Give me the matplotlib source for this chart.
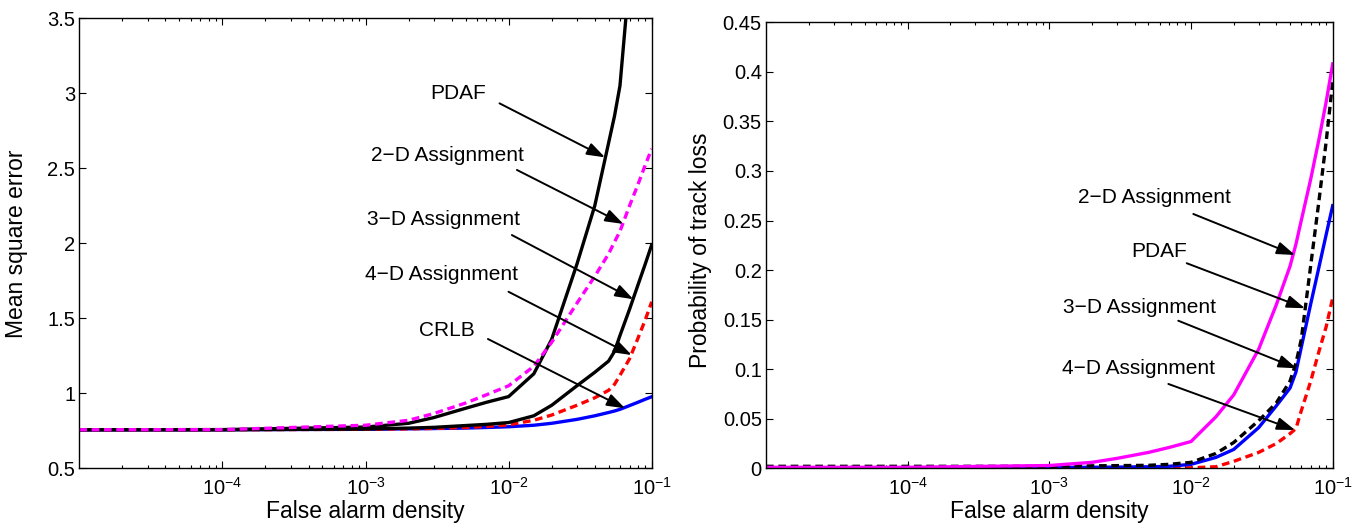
import numpy as np
import matplotlib
matplotlib.use("Agg")
import matplotlib.pyplot as plt
from matplotlib.ticker import FixedLocator, FixedFormatter, LogLocator, NullFormatter

plt.rcParams['font.family'] = ['Liberation Sans', 'DejaVu Sans']
plt.rcParams['mathtext.fontset'] = 'custom'
plt.rcParams['mathtext.rm'] = 'Liberation Sans'
plt.rcParams['mathtext.it'] = 'Liberation Sans:italic'
plt.rcParams['mathtext.bf'] = 'Liberation Sans:bold'

# ---------------- data ----------------
false_alarm = [1e-5, 1e-4, 1e-3, 2e-3, 3e-3, 5e-3, 7e-3, 1e-2, 1.5e-2, 2e-2, 3e-2, 4e-2,
               5e-2, 5.5e-2, 6e-2, 7e-2, 8e-2, 9e-2, 1e-1]

# Left panel: mean square error
mse_crlb = [0.757, 0.757, 0.760, 0.763, 0.765, 0.768, 0.772, 0.777, 0.787, 0.800, 0.826, 0.850,
            0.872, 0.882, 0.893, 0.918, 0.940, 0.960, 0.977]
mse_4d = [0.757, 0.757, 0.760, 0.763, 0.766, 0.772, 0.779, 0.790, 0.820, 0.855, 0.920, 0.970,
          1.020, 1.060, 1.120, 1.230, 1.365, 1.488, 1.610]
mse_3d = [0.757, 0.757, 0.762, 0.768, 0.773, 0.785, 0.793, 0.805, 0.850, 0.920, 1.050, 1.140,
          1.215, 1.280, 1.385, 1.560, 1.720, 1.860, 1.990]
mse_pdaf = [0.757, 0.758, 0.775, 0.800, 0.838, 0.900, 0.940, 0.978, 1.130, 1.360, 1.860, 2.250,
            2.670, 2.850, 3.050, 3.780, np.nan, np.nan, np.nan]
mse_2d = [0.757, 0.758, 0.787, 0.820, 0.865, 0.935, 0.990, 1.050, 1.180, 1.340, 1.600, 1.780,
          1.930, 2.010, 2.080, 2.250, 2.390, 2.520, 2.630]

# Right panel: probability of track loss
ptl_4d = [0.0003, 0.0003, 0.0003, 0.0003, 0.0003, 0.0004, 0.0004, 0.0005, 0.0016, 0.007, 0.016, 0.025,
          0.035, 0.040, 0.058, 0.088, 0.118, 0.143, 0.172]
ptl_3d = [0.0005, 0.0005, 0.0008, 0.001, 0.0012, 0.0015, 0.002, 0.004, 0.011, 0.019, 0.041, 0.063,
          0.081, 0.097, 0.122, 0.166, 0.203, 0.236, 0.265]
ptl_pdaf = [0.002, 0.002, 0.002, 0.0025, 0.0027, 0.003, 0.004, 0.006, 0.015, 0.026, 0.048, 0.066,
            0.088, 0.106, 0.130, 0.205, 0.270, 0.330, 0.390]
ptl_2d = [0.001, 0.001, 0.0028, 0.006, 0.010, 0.016, 0.021, 0.027, 0.052, 0.074, 0.120, 0.165,
          0.204, 0.226, 0.250, 0.292, 0.332, 0.370, 0.408]

xticks = [1e-4, 1e-3, 1e-2, 1e-1]
mse_yticks = [0.5, 1, 1.5, 2, 2.5, 3, 3.5]
mse_yticklabels = ['0.5', '1', '1.5', '2', '2.5', '3', '3.5']
ptl_yticks = [0, 0.05, 0.1, 0.15, 0.2, 0.25, 0.3, 0.35, 0.4, 0.45]
ptl_yticklabels = ['0', '0.05', '0.1', '0.15', '0.2', '0.25', '0.3', '0.35', '0.4', '0.45']

# annotations: (label, text_x, text_y_baseline, tail_x, tail_y, head_x, head_y)
mse_notes = [
    ('PDAF', 0.00441, 2.962, 0.00864, 2.933, 0.0472, 2.573),
    ('2\u2212D Assignment', 0.00373, 2.551, 0.01143, 2.489, 0.0634, 2.129),
    ('3\u2212D Assignment', 0.00352, 2.122, 0.01054, 2.055, 0.0744, 1.627),
    ('4\u2212D Assignment', 0.00339, 1.755, 0.00998, 1.677, 0.0725, 1.255),
    ('CRLB', 0.00371, 1.384, 0.00717, 1.362, 0.0651, 0.900),
]
ptl_notes = [
    ('2\u2212D Assignment', 0.00548, 0.2674, 0.01038, 0.2566, 0.0542, 0.2152),
    ('PDAF', 0.00594, 0.2129, 0.00933, 0.2069, 0.0637, 0.1615),
    ('3\u2212D Assignment', 0.00433, 0.1564, 0.00813, 0.1489, 0.0557, 0.1009),
    ('4\u2212D Assignment', 0.00423, 0.0952, 0.00692, 0.0851, 0.0542, 0.0386),
]

# ---------------- figure ----------------
fig = plt.figure(figsize=(13.64, 5.30), dpi=100)
ax1 = fig.add_axes([0.05814, 0.11642, 0.41965, 0.84906])
ax2 = fig.add_axes([0.56158, 0.11642, 0.41547, 0.84151])

LW = 2.4
DASH = (0, (2.3, 1.4))

ax1.plot(false_alarm, mse_crlb, color='#0000ff', lw=LW)
ax1.plot(false_alarm, mse_4d, color='#ff0000', lw=LW, ls=DASH)
ax1.plot(false_alarm, mse_3d, color='black', lw=LW)
ax1.plot(false_alarm, mse_pdaf, color='black', lw=LW)
ax1.plot(false_alarm, mse_2d, color='#ff00ff', lw=LW, ls=DASH)

ax2.plot(false_alarm, ptl_4d, color='#ff0000', lw=LW, ls=DASH)
ax2.plot(false_alarm, ptl_3d, color='#0000ff', lw=LW)
ax2.plot(false_alarm, ptl_pdaf, color='black', lw=LW, ls=DASH)
ax2.plot(false_alarm, ptl_2d, color='#ff00ff', lw=LW)

TICKFS = 14.5
LABELFS = 16.5
for ax, yt, ytl, ylim in [(ax1, mse_yticks, mse_yticklabels, (0.5, 3.5)),
                          (ax2, ptl_yticks, ptl_yticklabels, (0, 0.45))]:
    ax.set_xscale('log')
    ax.set_xlim(1e-5, 1e-1)
    ax.set_ylim(*ylim)
    ax.xaxis.set_major_locator(FixedLocator(xticks))
    ax.xaxis.set_minor_locator(LogLocator(base=10, subs=np.arange(2, 10)))
    ax.xaxis.set_minor_formatter(NullFormatter())
    ax.yaxis.set_major_locator(FixedLocator(yt))
    ax.yaxis.set_major_formatter(FixedFormatter(ytl))
    ax.tick_params(which='both', direction='in', top=True, right=True,
                   labelsize=TICKFS, width=0.8)
    ax.tick_params(which='major', length=5)
    ax.tick_params(which='minor', length=2.5)
    ax.tick_params(axis='x', which='major', pad=6)
    ax.tick_params(axis='y', which='major', pad=3)
    for s in ax.spines.values():
        s.set_linewidth(1.0)
    ax.set_xlabel('False alarm density', fontsize=LABELFS)

ax1.set_ylabel('Mean square error', fontsize=LABELFS)
ax2.set_ylabel('Probability of track loss', fontsize=LABELFS)
ax1.yaxis.set_label_coords(-0.089, 0.5)
ax2.yaxis.set_label_coords(-0.096, 0.49)
ax1.xaxis.set_label_coords(0.5, -0.07)
ax2.xaxis.set_label_coords(0.5, -0.071)

NOTEFS = 15
for ax, notes in [(ax1, mse_notes), (ax2, ptl_notes)]:
    for label, tx, ty, ax0, ay0, hx, hy in notes:
        ax.text(tx, ty, label, ha='center', va='baseline', fontsize=NOTEFS)
        ax.annotate('', xy=(hx, hy), xytext=(ax0, ay0),
                    arrowprops=dict(arrowstyle='-|>,head_length=1.1,head_width=0.38',
                                    color='black', lw=1.4, mutation_scale=10,
                                    shrinkA=0, shrinkB=0))

fig.savefig('out.png', dpi=100, facecolor='white')
